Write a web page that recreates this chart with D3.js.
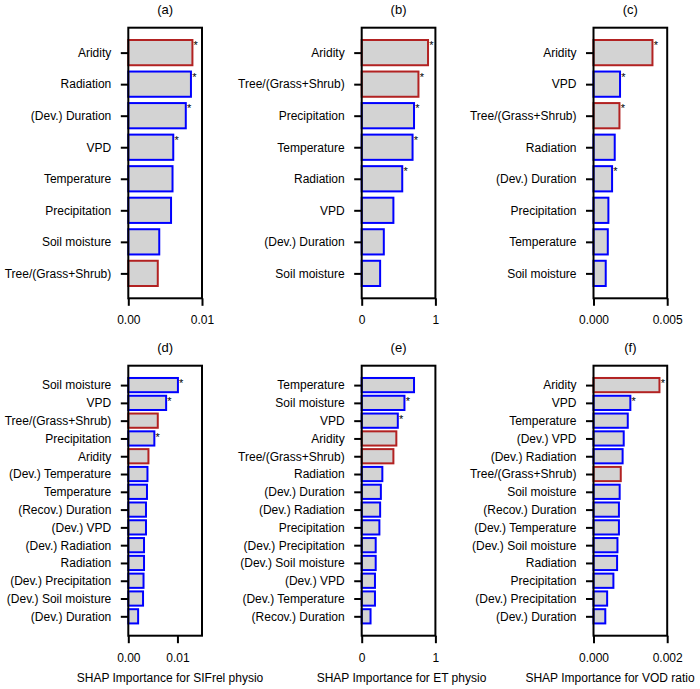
<!DOCTYPE html>
<html>
<head>
<meta charset="utf-8">
<script src="https://cdn.jsdelivr.net/npm/d3@7"></script>
<style>
  html, body { margin: 0; padding: 0; background: #fff; }
  svg { display: block; }
  text { font-family: "Liberation Sans", Arial, sans-serif; fill: #000; }
</style>
</head>
<body>
<svg id="chart" width="700" height="689"></svg>
<script>
// ---- Data ----
const aLabels = ["Aridity", "Radiation", "(Dev.) Duration", "VPD", "Temperature", "Precipitation", "Soil moisture", "Tree/(Grass+Shrub)"];
const aValues = [0.0087, 0.0085, 0.0078, 0.0061, 0.0060, 0.0058, 0.0042, 0.0040];
const aSig    = [true, true, true, true, false, false, false, false];

const bLabels = ["Aridity", "Tree/(Grass+Shrub)", "Precipitation", "Temperature", "Radiation", "VPD", "(Dev.) Duration", "Soil moisture"];
const bValues = [0.90, 0.77, 0.71, 0.69, 0.55, 0.43, 0.30, 0.25];
const bSig    = [true, true, true, true, true, false, false, false];

const cLabels = ["Aridity", "VPD", "Tree/(Grass+Shrub)", "Radiation", "(Dev.) Duration", "Precipitation", "Temperature", "Soil moisture"];
const cValues = [0.0040, 0.0018, 0.00176, 0.00144, 0.00126, 0.00101, 0.00097, 0.00083];
const cSig    = [true, true, true, false, true, false, false, false];

const dLabels = ["Soil moisture", "VPD", "Tree/(Grass+Shrub)", "Precipitation", "Aridity", "(Dev.) Temperature", "Temperature", "(Recov.) Duration", "(Dev.) VPD", "(Dev.) Radiation", "Radiation", "(Dev.) Precipitation", "(Dev.) Soil moisture", "(Dev.) Duration"];
const dValues = [0.0101, 0.0077, 0.0060, 0.0053, 0.0041, 0.0039, 0.0038, 0.0036, 0.0036, 0.0032, 0.0032, 0.0031, 0.0030, 0.0020];
const dSig    = [true, true, false, true, false, false, false, false, false, false, false, false, false, false];

const eLabels = ["Temperature", "Soil moisture", "VPD", "Aridity", "Tree/(Grass+Shrub)", "Radiation", "(Dev.) Duration", "(Dev.) Radiation", "Precipitation", "(Dev.) Precipitation", "(Dev.) Soil moisture", "(Dev.) VPD", "(Dev.) Temperature", "(Recov.) Duration"];
const eValues = [0.71, 0.58, 0.49, 0.47, 0.43, 0.28, 0.26, 0.25, 0.24, 0.19, 0.19, 0.18, 0.18, 0.12];
const eSig    = [false, true, true, false, false, false, false, false, false, false, false, false, false, false];

const fLabels = ["Aridity", "VPD", "Temperature", "(Dev.) VPD", "(Dev.) Radiation", "Tree/(Grass+Shrub)", "Soil moisture", "(Recov.) Duration", "(Dev.) Temperature", "(Dev.) Soil moisture", "Radiation", "Precipitation", "(Dev.) Precipitation", "(Dev.) Duration"];
const fValues = [0.00179, 0.00100, 0.00093, 0.00082, 0.00079, 0.00074, 0.00071, 0.00069, 0.00069, 0.00065, 0.00064, 0.00054, 0.00037, 0.00032];
const fSig    = [true, true, false, false, false, false, false, false, false, false, false, false, false, false];

const panelTitles = ["(a)", "(b)", "(c)", "(d)", "(e)", "(f)"];
const xMax = [0.01, 1, 0.005, 0.015, 1, 0.002];
const xTicks = [[0, 0.01], [0, 1], [0, 0.005], [0, 0.01], [0, 1], [0, 0.002]];
const xTickFormats = [".2f", ".0f", ".3f", ".2f", ".0f", ".3f"];
const xAxisTitles = ["SHAP Importance for SIFrel physio", "SHAP Importance for ET physio", "SHAP Importance for VOD ratio"];
const redVars = ["Aridity", "Tree/(Grass+Shrub)"];

// ---- Layout ----
const panels = [
  {labels: aLabels, values: aValues, sig: aSig},
  {labels: bLabels, values: bValues, sig: bSig},
  {labels: cLabels, values: cValues, sig: cSig},
  {labels: dLabels, values: dValues, sig: dSig},
  {labels: eLabels, values: eValues, sig: eSig},
  {labels: fLabels, values: fValues, sig: fSig}
];
const colLeft = [128.3, 361.7, 593.5];
const colWidth = 73.7;
const rowTop = [27.7, 365.7];
const rowHeight = [270.6, 270];
const xTitleCenter = [170, 401.5, 610];
const FS = 12;

const svg = d3.select("#chart");
const RED = "#b22222", BLUE = "#0000ff", FILL = "#d3d3d3";

panels.forEach((p, k) => {
  const col = k % 3, row = Math.floor(k / 3);
  const x0 = colLeft[col], y0 = rowTop[row], w = colWidth, h = rowHeight[row];
  const n = p.labels.length;
  const m = 0.05 * (n - 0.2);
  const x = d3.scaleLinear().domain([0, xMax[k]]).range([0, w]);
  const y = d3.scaleLinear().domain([-0.4 - m, n - 0.6 + m]).range([0, h]);
  const g = svg.append("g").attr("transform", `translate(${x0},${y0})`);

  // bars
  g.selectAll("rect.bar").data(p.values).join("rect")
    .attr("class", "bar")
    .attr("x", 0)
    .attr("y", (d, i) => y(i - 0.4))
    .attr("width", d => x(d))
    .attr("height", (d, i) => y(i + 0.4) - y(i - 0.4))
    .attr("fill", FILL)
    .attr("stroke", (d, i) => redVars.includes(p.labels[i]) ? RED : BLUE)
    .attr("stroke-width", 2);

  // significance asterisks
  g.selectAll("text.sig").data(p.values.map((v, i) => ({v, i})).filter(d => p.sig[d.i])).join("text")
    .attr("class", "sig")
    .attr("x", d => x(d.v) + 1.2)
    .attr("y", d => y(d.i - 0.4) + 9.3)
    .attr("font-size", 11)
    .text("*");

  // y axis
  const yAxis = d3.axisLeft(y).tickValues(d3.range(n)).tickFormat(i => p.labels[i])
    .tickSize(7.5).tickPadding(9.5);
  const ya = g.append("g").call(yAxis);
  ya.select(".domain").remove();
  ya.selectAll(".tick line").attr("stroke", "#000").attr("stroke-width", 2);
  ya.selectAll(".tick text").attr("font-size", FS).attr("font-family", "Liberation Sans, Arial, sans-serif").attr("fill", "#000");

  // x axis
  const xAxis = d3.axisBottom(x).tickValues(xTicks[k]).tickFormat(d3.format(xTickFormats[k]))
    .tickSize(7.5).tickPadding(10);
  const xa = g.append("g").attr("transform", `translate(0,${h})`).call(xAxis);
  xa.select(".domain").remove();
  xa.selectAll(".tick line").attr("stroke", "#000").attr("stroke-width", 2);
  xa.selectAll(".tick text").attr("font-size", FS).attr("font-family", "Liberation Sans, Arial, sans-serif").attr("fill", "#000");

  // frame
  g.append("rect").attr("x", 0).attr("y", 0).attr("width", w).attr("height", h)
    .attr("fill", "none").attr("stroke", "#000").attr("stroke-width", 2);

  // title
  g.append("text").attr("x", w / 2).attr("y", -14.2).attr("text-anchor", "middle")
    .attr("font-size", 13).text(panelTitles[k]);

  if (row === 1) {
    svg.append("text").attr("x", xTitleCenter[col]).attr("y", y0 + h + 46.5).attr("text-anchor", "middle")
      .attr("font-size", FS).text(xAxisTitles[col]);
  }
});
</script>
</body>
</html>
